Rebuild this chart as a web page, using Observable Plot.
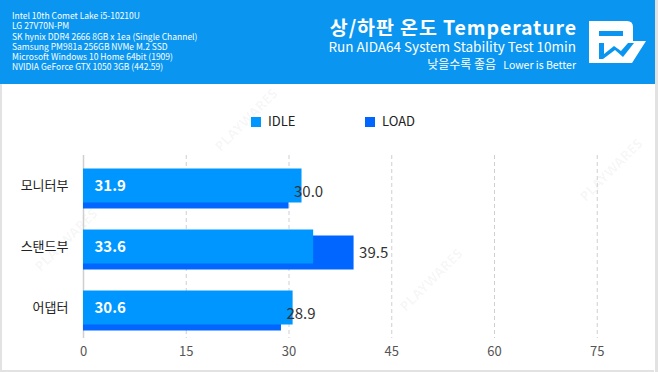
<!DOCTYPE html>
<html><head><meta charset="utf-8">
<script src="https://cdn.jsdelivr.net/npm/d3@7"></script>
<script src="https://cdn.jsdelivr.net/npm/@observablehq/plot@0.6"></script>
<style>
body{margin:0;background:#fff;font-family:"Noto Sans CJK KR","Noto Sans",sans-serif;}
#wrap{position:relative;width:658px;height:372px;overflow:hidden;background:#fff;}
#header{position:absolute;left:0;top:0;width:655px;height:84px;background:#0a96f0;color:#fff;}
#rborder{position:absolute;right:0;top:0;width:3px;height:372px;background:#e2e2e2;}
#chart{position:absolute;left:0;top:84px;width:652px;height:286px;border-left:2px solid #e2e2e2;border-bottom:2px solid #e2e2e2;}
.info{position:absolute;left:12px;top:10px;font-size:8.5px;line-height:10.3px;white-space:nowrap;}
.t{position:absolute;right:79px;white-space:nowrap;text-align:right;}
.leg{position:absolute;top:115px;font-size:13px;color:#222;line-height:12px;white-space:nowrap;}
.sw{display:inline-block;width:10px;height:10px;vertical-align:-1px;margin-right:7px;}
.wm{position:absolute;color:rgba(0,0,0,0.045);font-family:"Noto Sans",sans-serif;font-weight:bold;font-size:14px;transform:rotate(-45deg);white-space:nowrap;}
</style></head>
<body>
<div id="wrap">
  <div id="chart"></div>
  <div id="header"></div>
  <div id="rborder"></div>
  <div id="legend"></div>
</div>
<script>
const infoLines = [
  "Intel 10th Comet Lake i5-10210U",
  "LG 27V70N-PM",
  "SK hynix DDR4 2666 8GB x 1ea (Single Channel)",
  "Samsung PM981a 256GB NVMe M.2 SSD",
  "Microsoft Windows 10 Home 64bit (1909)",
  "NVIDIA GeForce GTX 1050 3GB (442.59)"
];
const title = "상/하판 온도 Temperature";
const subtitle = "Run AIDA64 System Stability Test 10min";
const noteKo = "낮을수록 좋음";
const noteEn = "Lower is Better";
const seriesNames = ["IDLE", "LOAD"];
const seriesColors = ["#0096ff", "#0066ff"];
const categories = ["모니터부", "스탠드부", "어댑터"];
const idleValues = [31.9, 33.6, 30.6];
const loadValues = [30.0, 39.5, 28.9];
const xTicks = [0, 15, 30, 45, 60, 75];

const data = categories.map((c, i) => ({cat: c, idle: idleValues[i], load: loadValues[i]}));

// header
const header = document.getElementById("header");
const info = document.createElement("div");
info.className = "info";
info.innerHTML = infoLines.join("<br>");
header.appendChild(info);
const t1 = document.createElement("div");
t1.className = "t"; t1.style.top = "14px"; t1.style.fontSize = "19.5px"; t1.style.fontWeight = "bold"; t1.style.lineHeight = "26px"; t1.style.letterSpacing = "0.9px"; t1.style.marginRight = "-0.9px";
t1.textContent = title; header.appendChild(t1);
const t2 = document.createElement("div");
t2.className = "t"; t2.style.top = "37px"; t2.style.fontSize = "13.5px"; t2.style.lineHeight = "18px";
t2.textContent = subtitle; header.appendChild(t2);
const t3 = document.createElement("div");
t3.className = "t"; t3.style.top = "54px"; t3.style.lineHeight = "16px";
t3.innerHTML = `<span style="font-size:12px">${noteKo}</span>&nbsp;&nbsp;<span style="font-size:10.5px">${noteEn}</span>`;
header.appendChild(t3);
// logo
header.insertAdjacentHTML("beforeend", `
<svg width="60" height="46" viewBox="0 0 60 46" style="position:absolute;left:588px;top:19px">
  <path d="M1 2 H39 Q45 2 45 8 V22 H58 L44 44 H1 Z" fill="#fff"/>
  <rect x="11" y="12" width="24" height="5" fill="#0a96f0"/>
  <path d="M11 24 H16 V35 L26 27 L33 32 L40 24 H46 L35 38 L27 31 L15 40 H11 Z" fill="#0a96f0"/>
</svg>`);

// legend
const legend = document.getElementById("legend");
const legX = [251, 365];
seriesNames.forEach((n, i) => {
  const d = document.createElement("div");
  d.className = "leg";
  d.style.left = legX[i] + "px";
  d.innerHTML = `<span class="sw" style="background:${seriesColors[i]}"></span>${n}`;
  legend.appendChild(d);
});

// watermarks
const wrap = document.getElementById("wrap");
[[25, 230], [205, 110], [390, 270], [570, 160]].forEach(([x, y]) => {
  const w = document.createElement("div");
  w.className = "wm"; w.style.left = x + "px"; w.style.top = y + "px";
  w.textContent = "PLAYWARES";
  wrap.insertBefore(w, wrap.firstChild);
});

const chart = Plot.plot({
  width: 652, height: 284,
  marginLeft: 81, marginRight: 23, marginTop: 71, marginBottom: 30,
  style: {fontFamily: '"Noto Sans CJK KR","Noto Sans",sans-serif', fontSize: "13px", background: "transparent", overflow: "visible"},
  x: {domain: [0, 80], label: null},
  y: {domain: categories, padding: 0, label: null},
  marks: [
    Plot.ruleX(xTicks.slice(1), {stroke: "#cfcfcf", strokeDasharray: "4,3"}),
    Plot.ruleX([0], {stroke: "#cfcfcf", strokeWidth: 1.5}),
    Plot.barX(data, {x: "load", y: "cat", fill: seriesColors[1], insetTop: 13.5, insetBottom: 13.5, dy: 6}),
    Plot.barX(data, {x: "idle", y: "cat", fill: seriesColors[0], insetTop: 13.5, insetBottom: 13.5}),
    Plot.text(data, {x: () => 0, y: "cat", text: d => d.idle.toFixed(1), dx: 11, textAnchor: "start", fill: "#fff", fontWeight: "bold", fontSize: 15}),
    Plot.text(data, {x: "load", y: "cat", text: d => d.load.toFixed(1), dx: 5, dy: 6, textAnchor: "start", fill: "#333", fontSize: 15}),
    Plot.axisX({ticks: xTicks, tickSize: 0, tickPadding: 8, fill: "#555", fontSize: 13, tickFormat: d => String(d), label: null}),
    Plot.axisY({tickSize: 0, tickPadding: 15, fill: "#222", fontSize: 13, label: null})
  ]
});
document.getElementById("chart").appendChild(chart);
</script>
</body></html>
